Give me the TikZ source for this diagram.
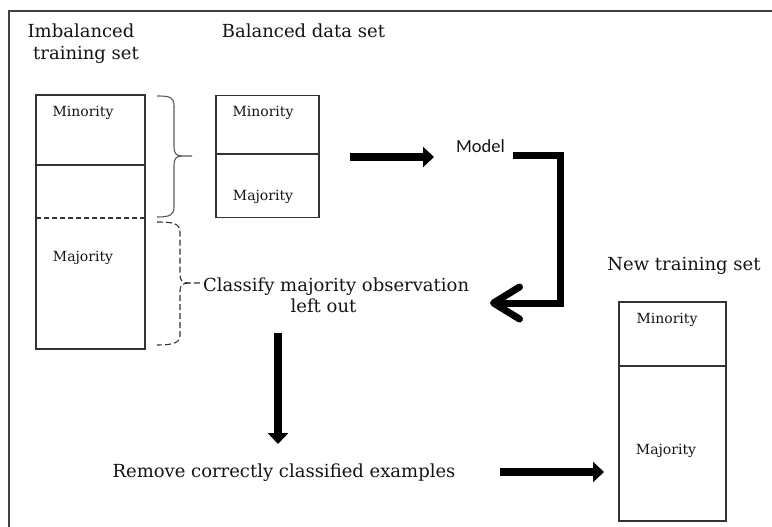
\documentclass[tikz,border=0pt]{standalone}
\usepackage{fontspec}
\setmainfont{DejaVu Serif}
\newfontfamily\modelfont{Carlito}
\usetikzlibrary{arrows.meta}

\begin{document}
\begin{tikzpicture}[x=1pt,y=-1pt,
  setbox/.style={draw=black!80, line width=1.1pt, inner sep=0pt},
  divider/.style={draw=black!80, line width=1.1pt},
  lbl/.style={anchor=base, inner sep=0pt, text=black!92},
  title/.style={lbl, font=\fontsize{18}{20}\selectfont},
  small/.style={lbl, font=\fontsize{14}{16}\selectfont},
  fat/.style={line width=8pt, -{Triangle[length=11pt,width=20pt]}},
  bracepath/.style={draw=black!65, line width=1.1pt},
  dashbrace/.style={draw=black!80, line width=1.1pt, dash pattern=on 6pt off 3pt},
]
\useasboundingbox (0,0) rectangle (772,527);

% open frame round the figure
\draw[line width=1.5pt, black!75] (9,527) -- (9,11) -- (772,11);

% headings
\node[title] (t1) at (81,38) {Imbalanced};
\node[title] (t2) at (86,60) {training set};
\node[title] (t3) at (303.5,38) {Balanced data set};
\node[title] (t4) at (684,270) {New training set};

% imbalanced training set
\node[setbox, minimum width=109pt, minimum height=254pt] (imb) at (90.5,222) {};
\draw[divider] (36,165) -- (145,165);
\draw[divider, dash pattern=on 5pt off 3pt] (36,218) -- (145,218);
\node[small] (imbmin) at (83,117) {Minority};
\node[small] (imbmaj) at (83,261) {Majority};

% balanced data set
\node[setbox, minimum width=103pt, minimum height=121.5pt] (bal) at (267.5,156.5) {};
\draw[divider] (216,154) -- (319,154);
\node[small] (balmin) at (263,117) {Minority};
\node[small] (balmaj) at (263,200) {Majority};

% new training set
\node[setbox, minimum width=107pt, minimum height=219pt] (new) at (672.5,411.5) {};
\draw[divider] (619,366) -- (726,366);
\node[small] (newmin) at (667,323) {Minority};
\node[small] (newmaj) at (666,454) {Majority};

% braces
\draw[bracepath] (157,96) .. controls (170,96) and (174,97) .. (174,106) -- (174,147)
  .. controls (174,153) and (176,156) .. (182,156) -- (192,156);
\draw[bracepath] (182,156) .. controls (176,156) and (174,159) .. (174,165) -- (174,207)
  .. controls (174,215) and (170,217) .. (157,217);
\draw[dashbrace] (157,222) .. controls (172,222) and (180,223) .. (180,232) -- (180,275)
  .. controls (180,281) and (183,283) .. (189,283) -- (203,283);
\draw[dashbrace] (189,283) .. controls (183,283) and (180,285) .. (180,291) -- (180,336)
  .. controls (180,343) and (172,345) .. (157,345);

% process texts
\node[lbl, anchor=base west, font=\fontsize{18}{20}\selectfont] (cl1) at (203,291) {Classify majority observation};
\node[title] (cl2) at (323.5,312) {left out};
\node[title] (rem) at (284,477) {Remove correctly classified examples};
\node[lbl, font=\modelfont\fontsize{18.5}{20}\selectfont] (model) at (480.5,153) {Model};

% arrows
\coordinate (a1s) at (350,157);
\coordinate (a1e) at (434,157);
\draw[fat] (a1s) -- (a1e);

\coordinate (r1) at (513,155);
\coordinate (r2) at (560.5,155);
\coordinate (r3) at (560.5,303);
\coordinate (r4) at (490,303);
\draw[line width=7pt, line join=miter,
  -{Straight Barb[length=26pt,width=32pt,round]}] (r1) -- (r2) -- (r3) -- (r4);

\coordinate (d1) at (278,333);
\coordinate (d2) at (278,444);
\draw[fat] (d1) -- (d2);

\coordinate (h1) at (500,472);
\coordinate (h2) at (604,472);
\draw[fat] (h1) -- (h2);
\end{tikzpicture}
\end{document}
